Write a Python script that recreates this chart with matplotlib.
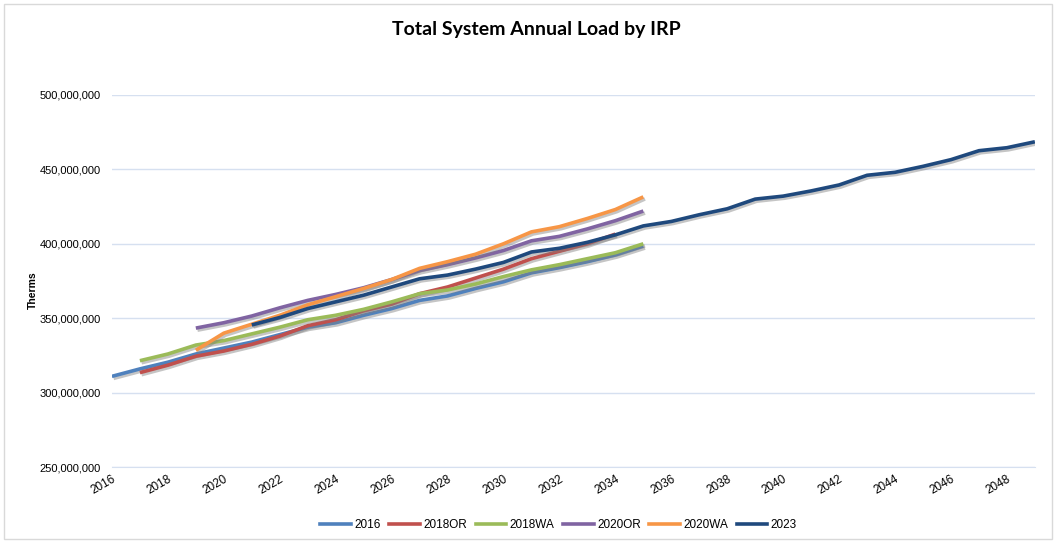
import matplotlib
matplotlib.use("Agg")
import matplotlib.pyplot as plt
import matplotlib.patheffects as pe
from matplotlib.patches import Rectangle
from matplotlib.ticker import FuncFormatter

# ── data (therms, millions) ─────────────────────────────────────────────────
years_2016 = list(range(2016, 2036))
load_2016 = [311, 316, 320.5, 326, 330, 334, 339, 344, 347, 352,
             356.5, 362, 365, 370, 374.5, 380.5, 384, 388, 392.5, 398.5]

years_2018or = list(range(2017, 2035))
load_2018or = [313.5, 318.5, 324.5, 328, 332.5, 338, 345, 349, 355,
               359.5, 366.5, 371, 377, 383, 390, 395, 400, 406.5]

years_2018wa = list(range(2017, 2036))
load_2018wa = [321.5, 326, 332, 335, 339.5, 344, 349, 352, 356, 361,
               366.5, 369, 373, 378, 382.5, 386, 390, 394, 400]

years_2020or = list(range(2019, 2036))
load_2020or = [343.4, 347, 351.5, 357, 362, 366, 370.5, 376, 382,
               386, 390.5, 395.5, 402, 405, 410, 415.5, 422]

years_2020wa = list(range(2019, 2036))
load_2020wa = [328.5, 340, 346, 352, 359, 364.5, 370, 376, 383.5,
               388, 393, 400, 408, 411.5, 417, 423, 431.5]

years_2023 = list(range(2021, 2050))
load_2023 = [345.5, 350.5, 356.5, 361, 365.5, 371, 376.5, 379, 383, 387.5,
             394.5, 397, 401, 406, 412, 415, 419.5, 423.5, 430, 432,
             435.5, 439.5, 446, 448, 452, 456.5, 462.5, 464.5, 468.5]

series = [
    ("2016",   years_2016,   load_2016,   "#4F81BD"),
    ("2018OR", years_2018or, load_2018or, "#C0504D"),
    ("2018WA", years_2018wa, load_2018wa, "#9BBB59"),
    ("2020OR", years_2020or, load_2020or, "#8064A2"),
    ("2020WA", years_2020wa, load_2020wa, "#F79646"),
    ("2023",   years_2023,   load_2023,   "#1F497D"),
]

x_ticks = list(range(2016, 2050, 2))
y_ticks = [250e6, 300e6, 350e6, 400e6, 450e6, 500e6]

plt.rcParams["font.family"] = ["Liberation Sans", "DejaVu Sans"]

fig = plt.figure(figsize=(10.56, 5.42), dpi=100)
ax = fig.add_axes([0.106, 0.138, 0.874, 0.687])

shadow = [pe.SimpleLineShadow(offset=(1.2, -1.5), shadow_color="#808080", alpha=0.45),
          pe.Normal()]

handles = []
for label, yrs, vals, color in series:
    ax.plot(yrs, [v * 1e6 for v in vals], color=color, linewidth=2.6,
            solid_capstyle="butt", path_effects=shadow, zorder=3)
    # plain line for the legend, no shadow
    h, = ax.plot([], [], color=color, linewidth=2.6, label=label)
    handles.append(h)

ax.set_xlim(2016, 2049)
ax.set_ylim(250e6, 500e6)
ax.set_yticks(y_ticks)
ax.yaxis.set_major_formatter(FuncFormatter(lambda v, _: f"{v:,.0f}"))
ax.set_xticks(x_ticks)
ax.set_xticklabels([str(x) for x in x_ticks], rotation=30, ha="right",
                   rotation_mode="anchor")

ax.grid(axis="y", color="#D6E0F0", linewidth=1)
ax.set_axisbelow(True)
for side in ("top", "right", "left"):
    ax.spines[side].set_visible(False)
ax.spines["bottom"].set_color("#D6E0F0")
ax.tick_params(axis="both", length=0, colors="#000000")
ax.tick_params(axis="y", pad=8, labelsize=8)
ax.tick_params(axis="x", pad=4, labelsize=8.5)

fig.text(0.031, 0.465, "Therms", rotation=90, ha="center", va="center",
         fontsize=7.5, fontweight="bold")

fig.text(0.508, 0.945, "Total System Annual Load by IRP", ha="center", va="center",
         fontsize=14, fontweight="bold", family=["Lato", "DejaVu Sans"])

ax.legend(handles=handles, loc="center", bbox_to_anchor=(0.484, -0.155), ncol=6,
          frameon=False, fontsize=8.5, handlelength=2.6, columnspacing=0.7,
          handletextpad=0.3)

# thin chart-area border like Excel's
fig.patches.append(Rectangle((0.004, 0.006), 0.992, 0.986, transform=fig.transFigure,
                             fill=False, edgecolor="#D9D9D9", linewidth=1))

fig.savefig("out.png", dpi=100)
